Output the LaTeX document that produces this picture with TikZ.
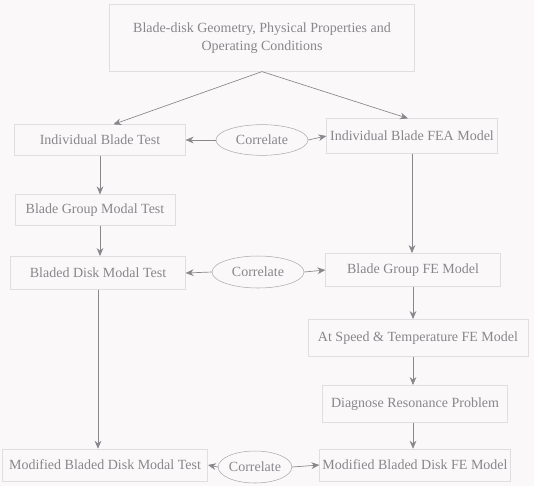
\documentclass[tikz,border=0pt]{standalone}
\usepackage{fontspec}
\setmainfont{Liberation Serif}
\usetikzlibrary{arrows.meta, shapes.geometric}

\definecolor{paper}{RGB}{250,248,248}
\definecolor{ink}{RGB}{135,135,140}
\definecolor{edge}{RGB}{225,222,225}

\begin{document}
\begin{tikzpicture}[x=0.75pt, y=-0.75pt,
    box/.style={draw=edge, text=ink, align=center, inner sep=2pt, font=\fontsize{10.5}{14}\selectfont},
    corr/.style={ellipse, draw=ink!70, text=ink, inner sep=0pt, font=\fontsize{10.5}{14}\selectfont},
    flow/.style={-{Stealth[length=6pt, width=5pt]}, draw=ink, line width=0.5pt}]
    \fill [paper] (0,0) rectangle (534,486);
    \useasboundingbox (0,0) rectangle (534,486);
    % boxes
    \node (geom) at (262,38) [box, minimum width=229pt, minimum height=50pt] {Blade-disk Geometry, Physical Properties and\\Operating Conditions};
    \node (ibt)  at (100,140) [box, minimum width=128pt, minimum height=23pt] {Individual Blade Test};
    \node (ifea) at (412,136) [box, minimum width=128pt, minimum height=26pt] {Individual Blade FEA Model};
    \node (bgmt) at (95,210)  [box, minimum width=120pt, minimum height=23pt] {Blade Group Modal Test};
    \node (bdmt) at (98,273)  [box, minimum width=131pt, minimum height=25pt] {Bladed Disk Modal Test};
    \node (bgfe) at (413,270) [box, minimum width=131pt, minimum height=25pt] {Blade Group FE Model};
    \node (asfe) at (418,338) [box, minimum width=165pt, minimum height=28pt] {At Speed \& Temperature FE Model};
    \node (drp)  at (415,404) [box, minimum width=139pt, minimum height=28pt] {Diagnose Resonance Problem};
    \node (mbfe) at (415,465) [box, minimum width=143pt, minimum height=24pt] {Modified Bladed Disk FE Model};
    \node (mbmt) at (105,465) [box, minimum width=154pt, minimum height=24pt] {Modified Bladed Disk Modal Test};
    % correlate ellipses
    \node (corrA) at (262,140) [corr, minimum width=69pt, minimum height=23pt] {Correlate};
    \node (corrB) at (258,272) [corr, minimum width=69pt, minimum height=24pt] {Correlate};
    \node (corrC) at (255,467) [corr, minimum width=54pt, minimum height=24pt] {Correlate};
    % arrows
    \draw [flow] (geom.south) -- ([xshift=10pt]ibt.north);
    \draw [flow] (geom.south) -- ([xshift=-3pt]ifea.north);
    \draw [flow] (corrA.west) -- (ibt.east);
    \draw [flow] (corrA.east) -- (ifea.west);
    \draw [flow] (ibt.south) -- (ibt.south |- bgmt.north);
    \draw [flow] (ibt.south |- bgmt.south) -- (ibt.south |- bdmt.north);
    \draw [flow] (corrB.west) -- (bdmt.east);
    \draw [flow] (corrB.east) -- (bgfe.west);
    \draw [flow] (ifea.south) -- (ifea.south |- bgfe.north);
    \draw [flow] (bgfe.south) -- (bgfe.south |- asfe.north);
    \draw [flow] (bgfe.south |- asfe.south) -- (bgfe.south |- drp.north);
    \draw [flow] (bgfe.south |- drp.south) -- (bgfe.south |- mbfe.north);
    \draw [flow] (bdmt.south) -- (bdmt.south |- mbmt.north);
    \draw [flow] (corrC.west) -- (mbmt.east);
    \draw [flow] (corrC.east) -- (mbfe.west);
\end{tikzpicture}
\end{document}
